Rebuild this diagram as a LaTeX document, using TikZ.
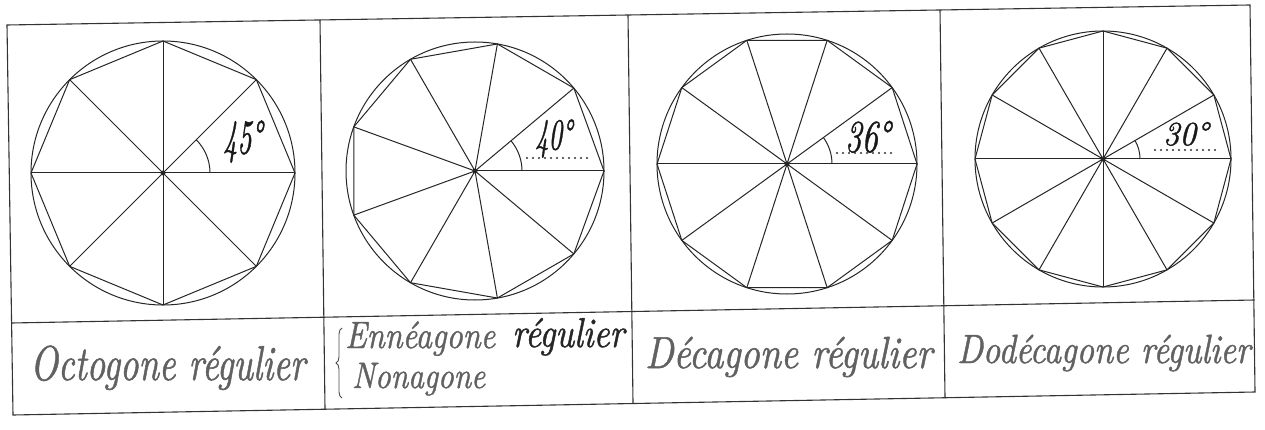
\documentclass[tikz,border=0pt]{standalone}
\usepackage{fontspec}
\newfontface\handfont{lmroman10-italic}[Extension=.otf, FakeBold=1.2]
\usetikzlibrary{calc,decorations.pathreplacing}
\begin{document}
\begin{tikzpicture}[x=1pt,y=-1pt,
  rule/.style={line width=1.1pt, draw=black!80},
  geo/.style={line width=1pt, draw=black!85},
  hand/.style={inner sep=0pt, anchor=base west, text=black!62},
  deg/.style={inner sep=0pt, anchor=south west, text=black!90},
  dots/.style={line width=2.3pt, line cap=round, dash pattern=on 0pt off 6pt, draw=black!80}]
\useasboundingbox (0,0) rectangle (1265,430);
\fill[white] (0,0) rectangle (1265,430);
% table
\coordinate (TL) at (7,25);
\coordinate (TR) at (1250,5);
\coordinate (BR) at (1255,392);
\coordinate (BL) at (13,415);
\coordinate (ML) at (11.6,323);
\coordinate (MR) at (1254.5,300);
\coordinate (V1t) at (320,20);
\coordinate (V1b) at (325,409);
\coordinate (V2t) at (628,15);
\coordinate (V2b) at (633,403);
\coordinate (V3t) at (940,10);
\coordinate (V3b) at (945,398);
\draw[rule] (TL) -- (TR) -- (BR) -- (BL) -- cycle;
\draw[rule] (ML) -- (MR);
\draw[rule] (V1t) -- (V1b);
\draw[rule] (V2t) -- (V2b);
\draw[rule] (V3t) -- (V3b);
% polygons
\coordinate (C1) at (163,173);
\coordinate (C2) at (475,171);
\coordinate (C3) at (787,164);
\coordinate (C4) at (1103,159);
\foreach \c/\r/\n in {C1/132/8,C2/129/9,C3/130/10,C4/128/12}{
  \draw[geo] (\c) circle[radius=\r];
  \draw[geo] ([shift={(0:\r)}]\c) \foreach \k in {1,...,\n}{ -- ([shift={(\k*360/\n:\r)}]\c)} -- cycle;
  \foreach \k in {1,...,\n}{\draw[geo] (\c) -- ([shift={(\k*360/\n:\r)}]\c);}
  \fill[black!85] (\c) circle[radius=2.5];
}
% angle arcs
\draw[geo] ([shift={(0:47)}]C1) arc[start angle=0,end angle=-45,radius=47];
\draw[geo] ([shift={(0:47)}]C2) arc[start angle=0,end angle=-40,radius=47];
\draw[geo] ([shift={(0:45)}]C3) arc[start angle=0,end angle=-36,radius=45];
\draw[geo] ([shift={(0:37)}]C4) arc[start angle=0,end angle=-30,radius=37];
% dotted lines
\coordinate (D2a) at (527,158); \coordinate (D2b) at (590,158);
\coordinate (D3a) at (837,153); \coordinate (D3b) at (893,153);
\coordinate (D4a) at (1155,150); \coordinate (D4b) at (1217,150);
\draw[dots] (D2a) -- (D2b);
\draw[dots] (D3a) -- (D3b);
\draw[dots] (D4a) -- (D4b);
% angle labels
\node[deg] (a45) at (223,163) {\resizebox{39pt}{33pt}{\handfont 45°}};
\node[deg] (a40) at (535,158) {\resizebox{37pt}{30pt}{\handfont 40°}};
\node[deg] (a36) at (845,153) {\resizebox{45pt}{31pt}{\handfont 36°}};
\node[deg] (a30) at (1163,146) {\resizebox{45pt}{23pt}{\handfont 30°}};
% names
\node[hand] (n8) at (30,380) {\scalebox{1}[1.35]{\resizebox{275pt}{!}{\handfont Octogone régulier}}};
\node[hand] (n9a) at (345,348) {\scalebox{1}[1.2]{\resizebox{150pt}{!}{\handfont Ennéagone}}};
\node[hand, text=black!85] (n9r) at (512,347) {\scalebox{1}[1.2]{\resizebox{112pt}{!}{\handfont régulier}}};
\node[hand] (n9b) at (352,388) {\scalebox{1}[1.2]{\resizebox{133pt}{!}{\handfont Nonagone}}};
\coordinate (Bb) at (342,398);
\coordinate (Bt) at (342,328);
\draw[line width=0.9pt, black!70, decorate, decoration={brace, amplitude=6pt}] (Bb) -- (Bt);
\node[hand] (n10) at (645,368) {\scalebox{1}[1.2]{\resizebox{287pt}{!}{\handfont Décagone régulier}}};
\node[hand] (n12) at (957,363) {\scalebox{1}[1.2]{\resizebox{293pt}{!}{\handfont Dodécagone régulier}}};
\end{tikzpicture}
\end{document}
